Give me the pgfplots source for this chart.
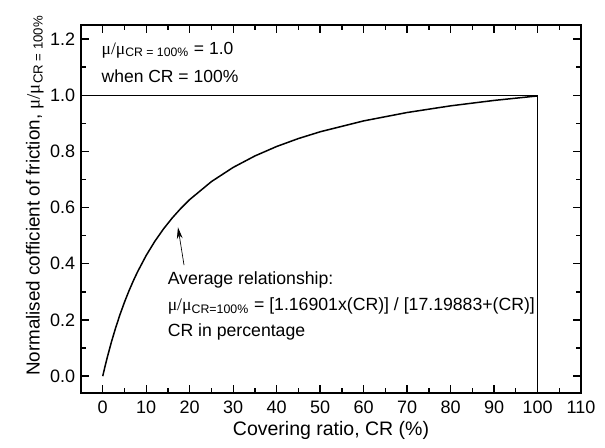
\documentclass[border=0pt]{standalone}
\usepackage{pgfplots}
\pgfplotsset{compat=1.18}
\usepackage{fontspec}
\setmainfont{Liberation Sans}
\newfontfamily\symf{Liberation Serif}
\usetikzlibrary{arrows.meta}
\newcommand{\mum}{{\symf μ/μ}}
\begin{document}
\begin{tikzpicture}[x=1pt,y=1pt]
\begin{axis}[
  name=ax,
  scale only axis,
  width=300pt, height=220.8pt,
  xmin=-5, xmax=110, ymin=-0.06, ymax=1.25,
  xtick={0,10,...,110},
  ytick={0,0.2,0.4,0.6,0.8,1.0,1.2},
  minor x tick num=1, minor y tick num=1,
  tick align=inside,
  major tick length=4.8pt, minor tick length=2.8pt,
  axis line style={line width=0.9pt},
  every tick/.style={line width=0.8pt, black},
  /pgf/number format/assume math mode=true,
  tick label style={font=\fontsize{10.8}{12}\selectfont},
  yticklabel style={/pgf/number format/fixed, /pgf/number format/fixed zerofill, /pgf/number format/precision=1},
  xticklabel style={yshift=-1pt},
  xlabel={Covering ratio, CR (\%)},
  ylabel={Normalised cofficient of friction, \mum\textsubscript{CR = 100\%}},
  label style={font=\fontsize{11.7}{13}\selectfont},
  xlabel style={yshift=2pt},
  ylabel style={yshift=-3pt, xshift=8pt, font=\fontsize{11.3}{13}\selectfont},
  clip=false,
]
% reference level mu/mu_CR=100% = 1 and the CR = 100% limit
\addplot[black, line width=0.6pt] coordinates {(-5,1) (100,1) (100,-0.06)};
% average relationship
\addplot[black, line width=0.9pt] coordinates {
(0,0) (0.5,0.03303) (1,0.06424) (2,0.12178) (3,0.17363) (4,0.22058)
(5,0.26330) (6,0.30235) (7,0.33816) (8,0.37113) (10,0.42980) (12,0.48043)
(14,0.52458) (16,0.56340) (18,0.59781) (20,0.62852) (25,0.69256)
(30,0.74304) (35,0.78384) (40,0.81751) (45,0.84577) (50,0.86981)
(60,0.90857) (70,0.93844) (80,0.96216) (90,0.98146) (100,0.99746)};
\draw[-{Stealth[length=7pt,width=3.5pt]}, line width=0.4pt] (axis cs:18.7,0.395) -- (axis cs:17.3,0.53);
\node[anchor=west, align=left, font=\fontsize{10.5}{17}\selectfont] at (axis cs:-1.6,1.117)
  {\mum\textsubscript{CR = 100\%} = 1.0\\when CR = 100\%};
\node[anchor=west, align=left, font=\fontsize{10.6}{15.5}\selectfont] at (axis cs:13.6,0.25)
  {Average relationship:\\\mum\textsubscript{CR=100\%} = [1.16901x(CR)] / [17.19883+(CR)]\\CR in percentage};
\end{axis}
\path (ax.south west) ++(-48.6pt,-33pt) (ax.north east) ++(14.4pt,15pt);
\end{tikzpicture}
\end{document}
